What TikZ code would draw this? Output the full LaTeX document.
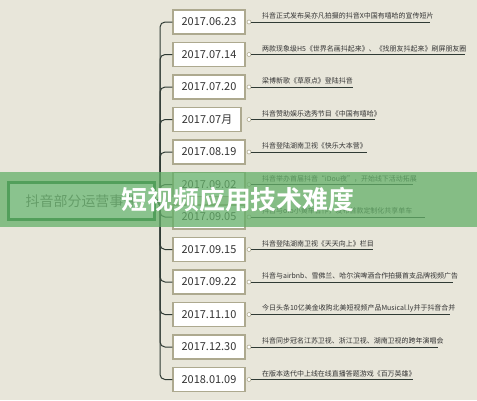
\documentclass[tikz,border=0pt]{standalone}
\usepackage{fontspec}
\setmainfont{Noto Sans CJK SC}[BoldFont=* Bold]
\definecolor{bg}{HTML}{E8E6DA}
\definecolor{boxline}{HTML}{ADA98F}
\definecolor{trunkc}{HTML}{2F3A34}
\definecolor{txt}{HTML}{333333}
\definecolor{rootline}{HTML}{1E6E34}
\definecolor{bannerc}{HTML}{64B069}
\tikzset{
  datebox/.style={draw=boxline, line width=1.5bp, fill=white, minimum width=72bp, minimum height=24bp, inner sep=0pt, text=txt, font=\fontsize{11}{13}\selectfont},
  rootbox/.style={draw=rootline, line width=3bp, fill=white, minimum width=146bp, minimum height=37bp, inner sep=0pt, text=black!60, font=\fontsize{14}{16}\selectfont},
  trunk/.style={draw=trunkc, line width=1bp, rounded corners=5bp},
  dotnode/.style={circle, draw=boxline, fill=white, line width=0.6bp, minimum size=4bp, inner sep=0pt},
  evtext/.style={anchor=south west, inner sep=0pt, text=txt, font=\fontsize{7}{8}\selectfont},
  uline/.style={draw=trunkc, line width=1bp},
  banner/.style={fill=bannerc, fill opacity=0.75, draw=none, minimum width=477bp, minimum height=55bp, inner sep=0pt},
  titletext/.style={text=white, font=\bfseries\fontsize{26}{30}\selectfont, inner sep=0pt}
}
\begin{document}
\begin{tikzpicture}[x=1bp,y=-1bp]
\fill[bg] (0,0) rectangle (477,400);
\useasboundingbox (0,0) rectangle (477,400);
\node[rootbox] (root) at (81.5,201) {抖音部分运营事件};
\foreach \i/\yy/\dd/\ex/\tt in {
 1/22/2017.06.23/430/抖音正式发布吴亦凡拍摄的抖音X中国有嘻哈的宣传短片,
 2/54.5/2017.07.14/465/两款现象级H5《世界名画抖起来》、《找朋友抖起来》刷屏朋友圈,
 3/87/2017.07.20/353/梁博新歌《草原点》登陆抖音,
 4/119.5/2017.07月/375/抖音赞助娱乐选秀节目《中国有嘻哈》,
 5/152/2017.08.19/367/抖音登陆湖南卫视《快乐大本营》,
 6/184.5/2017.09.02/413/抖音举办首届抖音“iDou夜”，开始线下活动拓展,
 7/217/2017.09.05/425/抖音与ofo小黄车合作，发布首款定制化共享单车,
 8/249.5/2017.09.15/373/抖音登陆湖南卫视《天天向上》栏目,
 9/282/2017.09.22/453/抖音与airbnb、雪佛兰、哈尔滨啤酒合作拍摄首支品牌视频广告,
 10/314.5/2017.11.10/450/今日头条10亿美金收购北美短视频产品Musical.ly并于抖音合并,
 11/347/2017.12.30/438/抖音同步冠名江苏卫视、浙江卫视、湖南卫视的跨年演唱会,
 12/379.5/2018.01.09/413/在版本迭代中上线在线直播答题游戏《百万英雄》}{
  \ifnum\i=4
    \node[datebox, minimum width=68bp] (d\i) at (207,\yy) {\dd};
  \else
    \node[datebox] (d\i) at (209,\yy) {\dd};
  \fi
  \draw[trunk] (root.east) -- (160,201) |- (d\i.west);
  \node[dotnode] (k\i) at (249,\yy) {};
  \coordinate (e\i) at (\ex,\yy);
  \draw[uline] (k\i.east) -- (e\i);
  \node[evtext] (t\i) at (262,\yy-2.5) {\tt};
}
\node[banner] (band) at (238.5,199.5) {};
\node[titletext] (title) at (238,200) {短视频应用技术难度};
\end{tikzpicture}
\end{document}
